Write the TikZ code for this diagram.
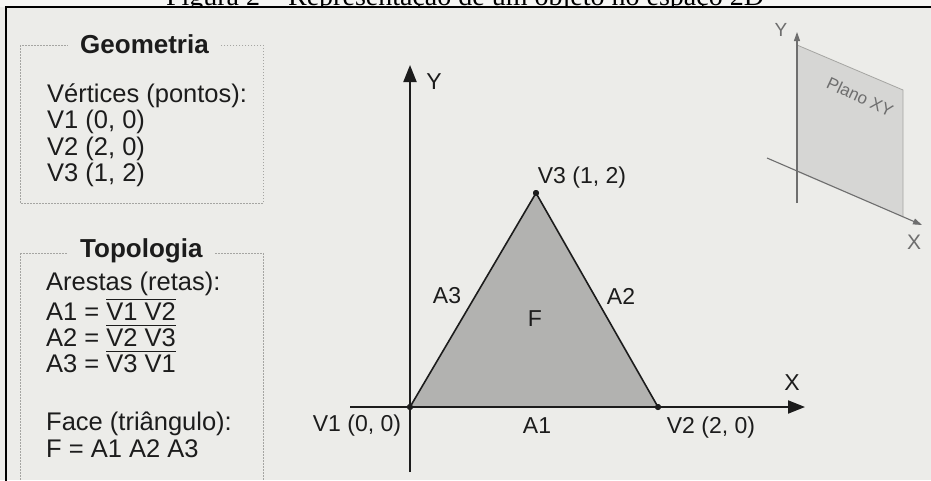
\documentclass[tikz,border=0pt]{standalone}
\usepackage{fontspec}
\setmainfont{Liberation Sans}
\newfontfamily\capfont{Liberation Serif}
\usetikzlibrary{arrows.meta}
\definecolor{paper}{RGB}{236,236,233}
\definecolor{strip}{RGB}{246,246,244}
\definecolor{ink}{RGB}{28,28,28}
\definecolor{tri}{RGB}{178,178,176}
\definecolor{boxline}{RGB}{165,165,162}
\definecolor{plane}{RGB}{214,214,212}
\definecolor{faint}{RGB}{110,110,110}
\newcommand{\ovl}[1]{\vbox{\hrule height 1pt\kern 2.5pt\hbox{#1}}}
\begin{document}
\begin{tikzpicture}[x=1pt,y=-1pt,
  txt/.style={inner sep=0pt, anchor=base west, text=ink, font=\fontsize{25.5}{30}\selectfont},
  head/.style={anchor=base west, text=ink, font=\fontsize{26}{30}\selectfont\bfseries, fill=paper, inner xsep=12pt, inner ysep=2pt},
  lbl/.style={inner sep=0pt, text=ink, font=\fontsize{23}{26}\selectfont},
  slbl/.style={inner sep=0pt, text=faint, font=\fontsize{20}{24}\selectfont},
  dbox/.style={draw=boxline, line width=0.8pt, dash pattern=on 1.5pt off 1.5pt},
  axisline/.style={draw=ink, line width=2pt, -{Triangle[length=17pt,width=13pt]}},
  saxis/.style={draw=faint, line width=1.1pt, -{Triangle[length=9pt,width=6pt]}},
  edge/.style={draw=ink, line width=1.6pt},
  vdot/.style={circle, fill=ink, inner sep=0pt, minimum size=6pt},
]
\useasboundingbox (0,0) rectangle (931,480);
\clip (0,0) rectangle (931,480);
\fill[paper] (0,0) rectangle (931,480);
\fill[strip] (0,0) rectangle (931,7);
\begin{scope}
\clip (0,0) rectangle (931,6.5);
\node[anchor=base, inner sep=0pt, font=\capfont\fontsize{28}{30}\selectfont] (cap) at (465,5) {Figura 2 – Representação de um objeto no espaço 2D};
\end{scope}
\draw[black, line width=2.5pt] (6,481) -- (6,7) -- (932,7);

% left panel boxes
\draw[dbox] (20,45) rectangle (263,203);
\draw[dbox] (20,253) -- (20,490) (263,253) -- (263,490) (20,253) -- (263,253);
\node[head] (geo) at (68,53) {Geometria};
\node[txt] (vt) at (47,102) {Vértices (pontos):};
\node[txt] (g1) at (47,128.5) {V1 (0, 0)};
\node[txt] (g2) at (47,155) {V2 (2, 0)};
\node[txt] (g3) at (47,181.5) {V3 (1, 2)};
\node[head] (topo) at (68,257) {Topologia};
\node[txt] (ar) at (46,290) {Arestas (retas):};
\node[txt] (a1) at (46,320) {A1 = \ovl{V1 V2}};
\node[txt] (a2) at (46,346.5) {A2 = \ovl{V2 V3}};
\node[txt] (a3) at (46,372.5) {A3 = \ovl{V3 V1}};
\node[txt] (fc) at (46,430) {Face (triângulo):};
\node[txt] (ff) at (46,457) {F = A1 A2 A3};

% main diagram
\coordinate (xs) at (350,407);
\coordinate (xe) at (805,407);
\coordinate (ys) at (410,472);
\coordinate (ye) at (410,65);
\node[vdot] (V1) at (410,407) {};
\node[vdot] (V2) at (658,407) {};
\node[vdot] (V3) at (536,193) {};
\fill[tri] (V1.center) -- (V2.center) -- (V3.center) -- cycle;
\draw[edge, line join=round] (V1.center) -- (V2.center) -- (V3.center) -- cycle;
\draw[axisline] (xs) -- (xe);
\draw[axisline] (ys) -- (ye);
\node[vdot] at (V1) {};
\node[vdot] at (V2) {};
\node[vdot] at (V3) {};
\node[lbl] (ly) at (434,82) {Y};
\node[lbl] (lx) at (792,383) {X};
\node[lbl] (lv3) at (582,177.5) {V3 (1, 2)};
\node[lbl] (la3) at (447,296) {A3};
\node[lbl] (la2) at (621,296) {A2};
\node[lbl] (lf) at (535,319) {F};
\node[lbl] (lv1) at (357,426) {V1 (0, 0)};
\node[lbl] (la1) at (537,426) {A1};
\node[lbl] (lv2) at (711,428) {V2 (2, 0)};

% small 3D plane diagram
\coordinate (p1) at (797,45);
\coordinate (p2) at (903,90);
\coordinate (p3) at (903,217);
\coordinate (p4) at (797,172);
\fill[plane] (p1) -- (p2) -- (p3) -- (p4) -- cycle;
\draw[draw=boxline, line width=0.8pt] (p1) -- (p2) -- (p3);
\coordinate (sxs) at (767,158);
\coordinate (sxe) at (922,225);
\coordinate (sys) at (797,203);
\coordinate (sye) at (797,32);
\draw[saxis] (sxs) -- (sxe);
\draw[saxis] (sys) -- (sye);
\node[slbl, rotate=-25, font=\fontsize{17}{20}\selectfont] (pl) at (860,97) {Plano XY};
\node[slbl, font=\fontsize{19}{22}\selectfont] (sly) at (781,30) {Y};
\node[slbl, font=\fontsize{21}{24}\selectfont] (slx) at (914,242) {X};
\end{tikzpicture}
\end{document}
